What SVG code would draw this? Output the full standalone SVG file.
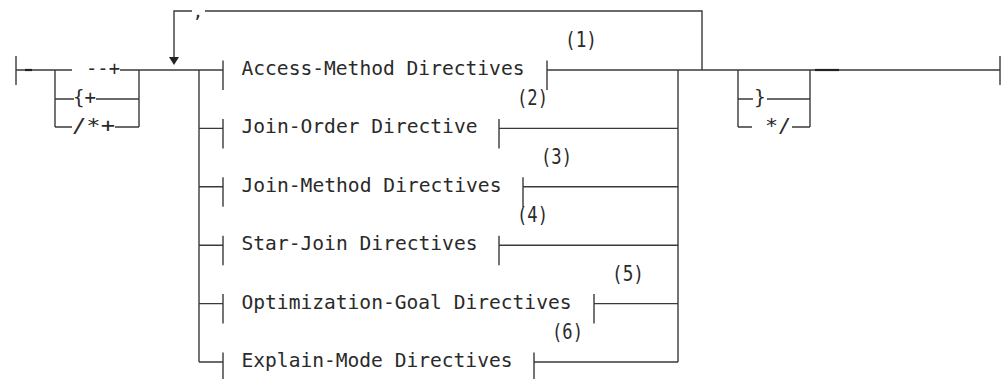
<svg xmlns="http://www.w3.org/2000/svg" width="1003" height="379" viewBox="0 0 1003 379">
<style>
.ln{stroke:#3a3a3a;stroke-width:1.4;fill:none;stroke-linecap:butt}
.thk{stroke:#222;stroke-width:2.2;fill:none}
.t{font-family:"DejaVu Sans Mono","Liberation Mono",monospace;font-size:19.6px;fill:#2a2a2a}
.n{font-family:"DejaVu Sans Mono","Liberation Mono",monospace;font-size:21px;fill:#2a2a2a}
</style>
<rect width="1003" height="379" fill="#fff"/>
<g id="connectors">
  <path class="ln" d="M16 56V85M16 70H72"/>
  <path class="thk" d="M25 70H32"/>
  <path class="ln" d="M55 70V127M55 99H74M55 127H72M120 70H139M96 99H139M115 127H139M139 70V127"/>
  <path class="ln" d="M139 70H223"/>
  <path class="ln" d="M702 70V11H205M192 11H174V57"/>
  <polygon points="169,57 179,57 174,65" fill="#222"/>
  <path class="ln" d="M199 70V362M678 70V362"/>
  <path class="ln" d="M199 128.4H223M199 186.8H223M199 245.2H223M199 303.6H223M199 362H223"/>
  <path class="ln" d="M547 70H738M499 128.4H678M523 186.8H678M499 245.2H678M594 303.6H678M534 362H678"/>
  <path class="ln" d="M738 70V127M810 70V127M738 70H810M738 99H753M767 99H810M738 127H752M792 127H810"/>
  <path class="ln" d="M810 70H1000M1000 56V85"/>
  <path class="thk" d="M815 70H839"/>
</g>
<g id="start-choice">
  <text class="t" x="86" y="75" textLength="34" lengthAdjust="spacingAndGlyphs">--+</text>
  <text class="t" x="73" y="104" textLength="23" lengthAdjust="spacingAndGlyphs">{+</text>
  <text class="t" x="72" y="132" textLength="43" lengthAdjust="spacingAndGlyphs">/*+</text>
</g>
<g id="separator">
  <text class="t" x="198" y="17.5" text-anchor="middle" style="font-size:18px">,</text>
</g>
<g id="access-method">
  <path class="ln" d="M223 60.5V90M547 60.5V90"/>
  <text class="t" x="241.5" y="75" textLength="283" lengthAdjust="spacingAndGlyphs">Access-Method Directives</text>
  <text class="n" x="565" y="47" textLength="32" lengthAdjust="spacingAndGlyphs">(1)</text>
</g>
<g id="join-order">
  <path class="ln" d="M223 118.9V148.4M499 118.9V148.4"/>
  <text class="t" x="241.5" y="133.4" textLength="236" lengthAdjust="spacingAndGlyphs">Join-Order Directive</text>
  <text class="n" x="517" y="105.4" textLength="31" lengthAdjust="spacingAndGlyphs">(2)</text>
</g>
<g id="join-method">
  <path class="ln" d="M223 177.3V206.8M523 177.3V206.8"/>
  <text class="t" x="241.5" y="191.8" textLength="260" lengthAdjust="spacingAndGlyphs">Join-Method Directives</text>
  <text class="n" x="541" y="163.8" textLength="31" lengthAdjust="spacingAndGlyphs">(3)</text>
</g>
<g id="star-join">
  <path class="ln" d="M223 235.7V265.2M499 235.7V265.2"/>
  <text class="t" x="241.5" y="250.2" textLength="236" lengthAdjust="spacingAndGlyphs">Star-Join Directives</text>
  <text class="n" x="517" y="222.2" textLength="31" lengthAdjust="spacingAndGlyphs">(4)</text>
</g>
<g id="optimization-goal">
  <path class="ln" d="M223 294.1V323.6M594 294.1V323.6"/>
  <text class="t" x="241.5" y="308.6" textLength="330" lengthAdjust="spacingAndGlyphs">Optimization-Goal Directives</text>
  <text class="n" x="612" y="280.6" textLength="32" lengthAdjust="spacingAndGlyphs">(5)</text>
</g>
<g id="explain-mode">
  <path class="ln" d="M223 352.5V379M534 352.5V379"/>
  <text class="t" x="241.5" y="367" textLength="271" lengthAdjust="spacingAndGlyphs">Explain-Mode Directives</text>
  <text class="n" x="552" y="339" textLength="31" lengthAdjust="spacingAndGlyphs">(6)</text>
</g>
<g id="end-choice">
  <text class="t" x="754" y="104">}</text>
  <text class="t" x="765" y="132" textLength="26" lengthAdjust="spacingAndGlyphs">*/</text>
</g>
</svg>
